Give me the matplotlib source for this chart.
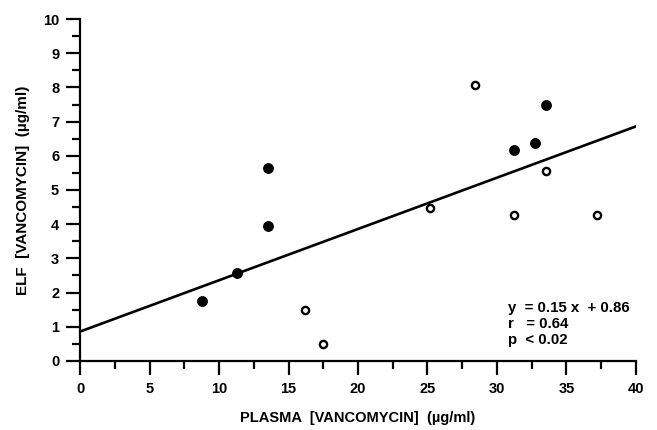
import matplotlib
matplotlib.use("Agg")
import matplotlib.pyplot as plt
import numpy as np
from matplotlib.ticker import MultipleLocator

plt.rcParams['font.family'] = ['Liberation Sans', 'DejaVu Sans']
plt.rcParams['font.weight'] = 'bold'

# filled circles
plasma_filled = [8.8, 11.3, 13.5, 13.5, 31.2, 32.7, 33.5]
elf_filled = [1.75, 2.56, 3.95, 5.65, 6.17, 6.37, 7.48]

# open circles
plasma_open = [16.2, 17.5, 25.2, 28.4, 31.2, 33.5, 37.2]
elf_open = [1.48, 0.51, 4.48, 8.07, 4.28, 5.57, 4.28]

# regression y = 0.15 x + 0.86
slope = 0.15
intercept = 0.86
x_fit = np.array([0, 40])

fig = plt.figure(figsize=(6.57, 4.30), dpi=100)
ax = fig.add_axes([0.1218, 0.1605, 0.8462, 0.7953])

ax.plot(x_fit, slope * x_fit + intercept, color='black', linewidth=1.9, zorder=2)
ax.plot(plasma_filled, elf_filled, 'o', color='black', markersize=6.8, zorder=3)
ax.plot(plasma_open, elf_open, 'o', markerfacecolor='white', markeredgecolor='black',
        markersize=5.2, markeredgewidth=1.7, zorder=3)

ax.set_xlim(0, 40)
ax.set_ylim(0, 10)
ax.spines['top'].set_visible(False)
ax.spines['right'].set_visible(False)
ax.spines['left'].set_linewidth(1.6)
ax.spines['bottom'].set_linewidth(1.6)

ax.xaxis.set_major_locator(MultipleLocator(5))
ax.xaxis.set_minor_locator(MultipleLocator(2.5))
ax.yaxis.set_major_locator(MultipleLocator(1))
ax.yaxis.set_minor_locator(MultipleLocator(0.5))
ax.tick_params(which='major', direction='out', length=10, width=1.6, labelsize=10.5, pad=5)
ax.tick_params(which='minor', direction='out', length=5.5, width=1.6)
for lab in ax.get_xticklabels() + ax.get_yticklabels():
    lab.set_fontweight('bold')
ax.spines['left'].set_bounds(0, 10)

ax.set_xlabel('PLASMA  [VANCOMYCIN]  (µg/ml)', fontsize=10.5, fontweight='bold', labelpad=11)
ax.set_ylabel('ELF  [VANCOMYCIN]  (µg/ml)', fontsize=11, fontweight='bold', labelpad=9)

ax.text(30.8, 1.76, 'y  = 0.15 x  + 0.86\nr   = 0.64\np  < 0.02', fontsize=10.8,
        fontweight='bold', va='top', ha='left', linespacing=1.17)

fig.savefig('out.png', dpi=100)
